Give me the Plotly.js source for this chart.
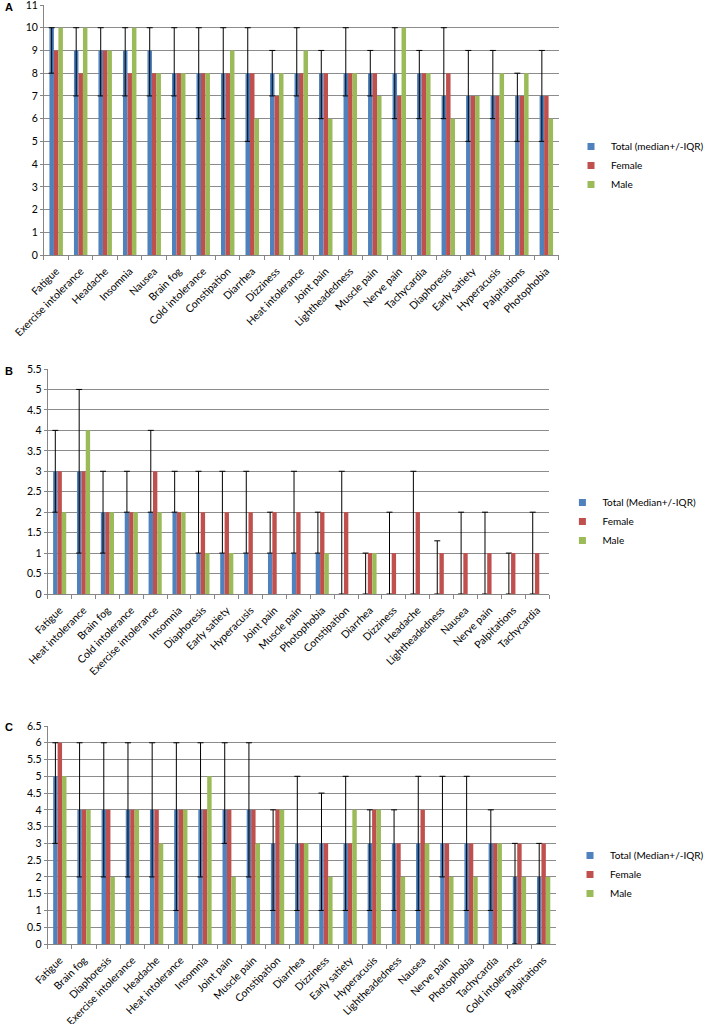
<!DOCTYPE html>
<html>
<head>
<meta charset="utf-8">
<script src="https://cdn.plot.ly/plotly-3.0.1.min.js"></script>
<style>html,body{margin:0;padding:0;background:#fff}</style>
</head>
<body>
<div id="chart" style="width:709px;height:1024px"></div>
<script>
/* global Plotly */

// panel A
const symptomsA = ["Fatigue", "Exercise intolerance", "Headache", "Insomnia", "Nausea", "Brain fog",
    "Cold intolerance", "Constipation", "Diarrhea", "Dizziness", "Heat intolerance", "Joint pain",
    "Lightheadedness", "Muscle pain", "Nerve pain", "Tachycardia", "Diaphoresis", "Early satiety",
    "Hyperacusis", "Palpitations", "Photophobia"];
const totalA  = [10, 9, 9, 9, 9, 8, 8, 8, 8, 8, 8, 8, 8, 8, 8, 8, 7, 7, 7, 7, 7];
const q1A     = [8, 7, 7, 7, 7, 7, 6, 6, 5, 7, 7, 6, 7, 7, 6, 6, 6, 5, 6, 5, 5];
const q3A     = [10, 10, 10, 10, 10, 10, 10, 10, 10, 9, 10, 9, 10, 9, 10, 9, 10, 9, 9, 8, 9];
const femaleA = [9, 8, 9, 8, 8, 8, 8, 8, 8, 7, 8, 8, 8, 8, 7, 8, 8, 7, 7, 7, 7];
const maleA   = [10, 10, 9, 10, 8, 8, 8, 9, 6, 8, 9, 6, 8, 7, 10, 8, 6, 7, 8, 8, 6];

// panel B
const symptomsB = ["Fatigue", "Heat intolerance", "Brain fog", "Cold intolerance", "Exercise intolerance",
    "Insomnia", "Diaphoresis", "Early satiety", "Hyperacusis", "Joint pain", "Muscle pain", "Photophobia",
    "Constipation", "Diarrhea", "Dizziness", "Headache", "Lightheadedness", "Nausea", "Nerve pain",
    "Palpitations", "Tachycardia"];
const totalB  = [3, 3, 2, 2, 2, 2, 1, 1, 1, 1, 1, 1, 0, 0, 0, 0, 0, 0, 0, 0, 0];
const q1B     = [2, 1, 1, 2, 2, 2, 1, 1, 1, 1, 1, 1, 0, 0, 0, 0, 0, 0, 0, 0, 0];
const q3B     = [4, 5, 3, 3, 4, 3, 3, 3, 3, 2, 3, 2, 3, 1, 2, 3, 1.3, 2, 2, 1, 2];
const femaleB = [3, 3, 2, 2, 3, 2, 2, 2, 2, 2, 2, 2, 2, 1, 1, 2, 1, 1, 1, 1, 1];
const maleB   = [2, 4, 2, 2, 2, 2, 1, 1, 0, 0, 0, 1, 0, 1, 0, 0, 0, 0, 0, 0, 0];

// panel C
const symptomsC = ["Fatigue", "Brain fog", "Diaphoresis", "Exercise intolerance", "Headache",
    "Heat intolerance", "Insomnia", "Joint pain", "Muscle pain", "Constipation", "Diarrhea", "Dizziness",
    "Early satiety", "Hyperacusis", "Lightheadedness", "Nausea", "Nerve pain", "Photophobia",
    "Tachycardia", "Cold intolerance", "Palpitations"];
const totalC  = [5, 4, 4, 4, 4, 4, 4, 4, 4, 3, 3, 3, 3, 3, 3, 3, 3, 3, 3, 2, 2];
const q1C     = [3, 2, 2, 2, 2, 1, 2, 3, 2, 1, 1, 1, 1, 1, 1, 1, 2, 1, 1, 0, 0];
const q3C     = [6, 6, 6, 6, 6, 6, 6, 6, 6, 4, 5, 4.5, 5, 4, 4, 5, 5, 5, 4, 3, 3];
const femaleC = [6, 4, 4, 4, 4, 4, 4, 4, 4, 4, 3, 3, 3, 4, 3, 4, 3, 3, 3, 3, 3];
const maleC   = [5, 4, 2, 4, 3, 4, 5, 2, 3, 4, 3, 2, 4, 4, 2, 3, 2, 2, 3, 2, 2];

const BLUE = "#4F81BD";
const RED = "#C0504D";
const GREEN = "#9BBB59";
const FONT = "Lato, 'Liberation Sans', sans-serif";

// small square legend keys like the excel ones (bar icons are too big)
const legendKey = (name, color, ax, legend) => ({
    type: "scatter", mode: "markers", name: name, x: [null], y: [null],
    xaxis: "x" + ax, yaxis: "y" + ax, legend: legend,
    marker: { symbol: "square", size: 7, color: color },
});

// three bar traces for one panel, error bars on the total
const panelTraces = (cats, total, q1, q3, female, male, totalName, ax, legend) => {
    const axes = { xaxis: "x" + ax, yaxis: "y" + ax, showlegend: false };
    return [
        Object.assign({
            type: "bar", name: totalName, x: cats, y: total,
            marker: { color: BLUE },
            error_y: {
                type: "data", symmetric: false,
                array: q3.map((v, i) => v - total[i]),
                arrayminus: total.map((v, i) => v - q1[i]),
                color: "#000", thickness: 1, width: 3,
            },
        }, axes),
        Object.assign({ type: "bar", name: "Female", x: cats, y: female, marker: { color: RED } }, axes),
        Object.assign({ type: "bar", name: "Male", x: cats, y: male, marker: { color: GREEN } }, axes),
        legendKey(totalName, BLUE, ax, legend),
        legendKey("Female", RED, ax, legend),
        legendKey("Male", GREEN, ax, legend),
    ];
};

const data = [].concat(
    panelTraces(symptomsA, totalA, q1A, q3A, femaleA, maleA, "Total (median+/-IQR)", "", "legend"),
    panelTraces(symptomsB, totalB, q1B, q3B, femaleB, maleB, "Total (Median+/-IQR)", "2", "legend2"),
    panelTraces(symptomsC, totalC, q1C, q3C, femaleC, maleC, "Total (Median+/-IQR)", "3", "legend3")
);

const W = 709, H = 1024;
const xdom = (l, r) => [l / W, r / W];
const ydom = (t, b) => [1 - b / H, 1 - t / H];

const xAxis = (dom, yref) => ({
    domain: dom, anchor: yref, type: "category",
    tickson: "boundaries", ticks: "outside", ticklen: 4, tickcolor: "#868686",
    showgrid: false, showline: true, linecolor: "#868686", linewidth: 1,
    tickangle: -45, ticklabelstandoff: 5,
    tickfont: { size: 10.5, color: "#000" }, automargin: false,
});
const yAxis = (dom, xref, max, step) => ({
    domain: dom, anchor: xref, range: [0, max], dtick: step,
    ticks: "outside", ticklen: 3, tickcolor: "#868686",
    showline: true, linecolor: "#868686", linewidth: 1,
    gridcolor: "#8c8c8c", gridwidth: 1, zeroline: false,
    ticklabeloverflow: "allow",
    tickfont: { size: 10.5, color: "#000" }, automargin: false,
});
const legendAt = (x, y) => ({
    x: x / W, y: 1 - y / H, xanchor: "left", yanchor: "top",
    font: { size: 10, color: "#000" }, bgcolor: "rgba(0,0,0,0)", tracegroupgap: 0,
});

const layout = {
    width: W, height: H,
    margin: { l: 0, r: 0, t: 0, b: 0 },
    paper_bgcolor: "#fff", plot_bgcolor: "#fff",
    font: { family: FONT, color: "#000" },
    barmode: "group", bargap: 0.45, bargroupgap: 0,
    xaxis: xAxis(xdom(46, 585), "y"),
    yaxis: yAxis(ydom(5, 255), "x", 11, 1),
    xaxis2: xAxis(xdom(50, 575), "y2"),
    yaxis2: yAxis(ydom(369, 594), "x2", 5.5, 0.5),
    xaxis3: xAxis(xdom(50, 582), "y3"),
    yaxis3: yAxis(ydom(726, 944), "x3", 6.5, 0.5),
    legend: legendAt(598, 132),
    legend2: legendAt(589, 488),
    legend3: legendAt(597, 841),
    annotations: [["A", -1], ["B", 363], ["C", 719]].map(([t, y]) => ({
        text: "<b>" + t + "</b>", xref: "paper", yref: "paper",
        x: 3 / W, y: 1 - y / H, xanchor: "left", yanchor: "top",
        showarrow: false, font: { size: 11, color: "#000", family: "'Liberation Sans', Arial, sans-serif" },
    })),
};

Plotly.newPlot("chart", data, layout, { staticPlot: true });
</script>
</body>
</html>
